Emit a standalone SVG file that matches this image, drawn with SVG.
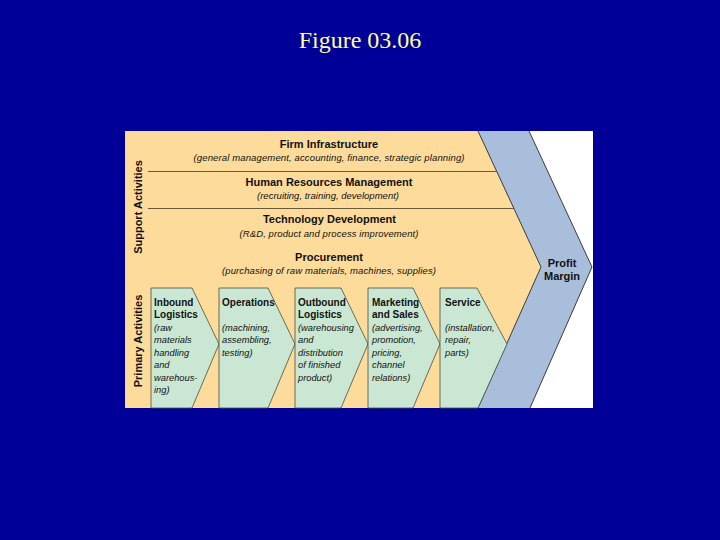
<svg xmlns="http://www.w3.org/2000/svg" width="720" height="540" viewBox="0 0 720 540">
<style>
.t{font-family:"Liberation Sans",Arial,sans-serif;fill:#111}
.b{font-weight:bold;font-size:11px}
.pb{font-weight:bold;font-size:10px}
.i{font-style:italic;font-size:9.5px}
.pi{font-style:italic;font-size:9.3px}
.c{text-anchor:middle}
.chev{fill:#c9e7d2;stroke:#4d4d3c;stroke-width:0.8}
.edge{fill:none;stroke:#2a2a30;stroke-width:0.9}
.sep{stroke:#5a4a2a;stroke-width:0.9}
</style>
<rect width="720" height="540" fill="#000099"/>
<text x="360" y="47.5" font-family="'Liberation Serif','Times New Roman',serif" font-size="24" fill="#ffff99" text-anchor="middle">Figure 03.06</text>

<g id="frame">
<rect x="125" y="131" width="468" height="277" fill="#fddb9a"/>
<polygon points="529,131 593,131 593,408 530,408 592,267" fill="#ffffff"/>
</g>

<g id="profit-margin">
<polygon points="478,131 529,131 592,267 530,408 478,408 541,267" fill="#a9bedb"/>
<polyline class="edge" points="478,131 541,267 478,408"/>
<polyline class="edge" points="529,131 592,267 530,408"/>
<text class="t b c" x="562" y="267">Profit</text>
<text class="t b c" x="562" y="280">Margin</text>
</g>

<g id="connectors">
<line class="sep" x1="148" y1="171.5" x2="496.6" y2="171.5"/>
<line class="sep" x1="148" y1="208.5" x2="513.8" y2="208.5"/>
</g>

<g id="support-label">
<text class="t b c" transform="translate(142,207) rotate(-90)">Support Activities</text>
</g>
<g id="primary-label">
<text class="t b c" transform="translate(142,341) rotate(-90)">Primary Activities</text>
</g>

<g id="firm-infrastructure">
<text class="t b c" x="329" y="148">Firm Infrastructure</text>
<text class="t i c" x="329" y="161" textLength="271" lengthAdjust="spacing">(general management, accounting, finance, strategic planning)</text>
</g>
<g id="hrm">
<text class="t b c" x="329" y="186">Human Resources Management</text>
<text class="t i c" x="328" y="199" textLength="142" lengthAdjust="spacing">(recruiting, training, development)</text>
</g>
<g id="technology">
<text class="t b c" x="329.5" y="223">Technology Development</text>
<text class="t i c" x="329" y="236.5" textLength="179" lengthAdjust="spacing">(R&amp;D, product and process improvement)</text>
</g>
<g id="procurement">
<text class="t b c" x="329" y="261">Procurement</text>
<text class="t i c" x="329" y="274" textLength="214" lengthAdjust="spacing">(purchasing of raw materials, machines, supplies)</text>
</g>

<g id="inbound">
<polygon class="chev" points="151,288 192,288 219,344 192,408 151,408"/>
<text class="t pb" x="154" y="305.5">Inbound</text>
<text class="t pb" x="154" y="318">Logistics</text>
<text class="t pi" x="154" y="330.5">(raw</text>
<text class="t pi" x="154" y="343">materials</text>
<text class="t pi" x="154" y="355.5">handling</text>
<text class="t pi" x="154" y="368">and</text>
<text class="t pi" x="154" y="380.5">warehous-</text>
<text class="t pi" x="154" y="393">ing)</text>
</g>
<g id="operations">
<polygon class="chev" points="219,288 268,288 295,344 268,408 219,408"/>
<text class="t pb" x="222" y="305.5">Operations</text>
<text class="t pi" x="222" y="330.5">(machining,</text>
<text class="t pi" x="222" y="343">assembling,</text>
<text class="t pi" x="222" y="355.5">testing)</text>
</g>
<g id="outbound">
<polygon class="chev" points="295,288 341,288 368,344 341,408 295,408"/>
<text class="t pb" x="298" y="305.5">Outbound</text>
<text class="t pb" x="298" y="318">Logistics</text>
<text class="t pi" x="298" y="330.5">(warehousing</text>
<text class="t pi" x="298" y="343">and</text>
<text class="t pi" x="298" y="355.5">distribution</text>
<text class="t pi" x="298" y="368">of finished</text>
<text class="t pi" x="298" y="380.5">product)</text>
</g>
<g id="marketing">
<polygon class="chev" points="368,288 413,288 440,344 413,408 368,408"/>
<text class="t pb" x="372" y="305.5">Marketing</text>
<text class="t pb" x="372" y="318">and Sales</text>
<text class="t pi" x="372" y="330.5">(advertising,</text>
<text class="t pi" x="372" y="343">promotion,</text>
<text class="t pi" x="372" y="355.5">pricing,</text>
<text class="t pi" x="372" y="368">channel</text>
<text class="t pi" x="372" y="380.5">relations)</text>
</g>
<g id="service">
<polygon class="chev" points="440,288 477,288 507,344 478,408 440,408"/>
<text class="t pb" x="445" y="305.5">Service</text>
<text class="t pi" x="445" y="330.5">(installation,</text>
<text class="t pi" x="445" y="343">repair,</text>
<text class="t pi" x="445" y="355.5">parts)</text>
</g>
</svg>
